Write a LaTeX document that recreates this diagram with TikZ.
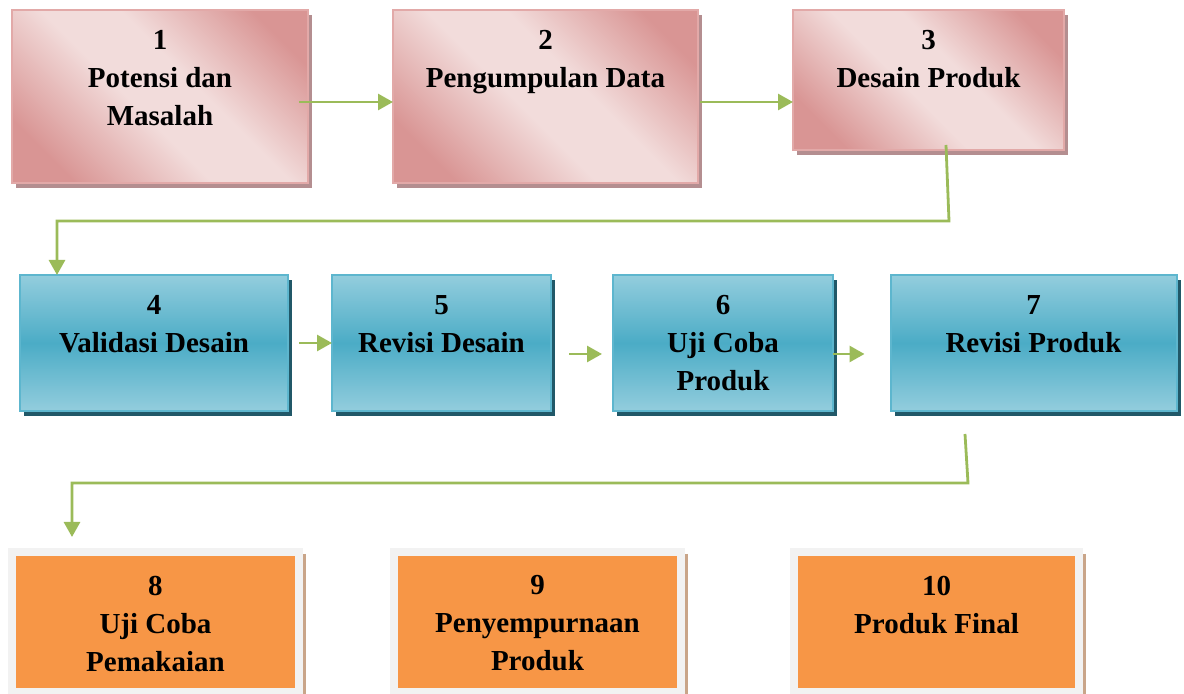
\documentclass[tikz,border=0pt]{standalone}
\usepackage{fontspec}
\setmainfont{Liberation Serif}
\usetikzlibrary{arrows.meta,shadows}

\definecolor{pinklight}{HTML}{F2DCDB}
\definecolor{pinkdark}{HTML}{D99594}
\definecolor{pinkedge}{HTML}{E2A9A8}
\definecolor{pinkshadow}{HTML}{B48E90}
\definecolor{bluelight}{HTML}{93CDDD}
\definecolor{bluemid}{HTML}{4BACC6}
\definecolor{blueedge}{HTML}{5DB6CE}
\definecolor{blueshadow}{HTML}{215868}
\definecolor{orangefill}{HTML}{F79646}
\definecolor{framegray}{HTML}{F2F2F2}
\definecolor{framebrown}{HTML}{C9A589}
\definecolor{flowgreen}{HTML}{9BBB59}

\pgfdeclarehorizontalshading{pinkdiag}{100bp}{color(0bp)=(pinkdark); color(24bp)=(pinkdark); color(45bp)=(pinklight); color(57bp)=(pinklight); color(77bp)=(pinkdark); color(100bp)=(pinkdark)}

\begin{document}
\begin{tikzpicture}[x=0.5pt,y=-0.5pt,
    pinkbox/.style={draw=pinkedge, line width=0.8pt, shading=pinkdiag, shading angle=45,
        outer sep=0pt, inner sep=0pt,
        drop shadow={opacity=1, fill=pinkshadow, shadow xshift=2pt, shadow yshift=-2.5pt}},
    bluebox/.style={draw=blueedge, line width=1pt, top color=bluelight, bottom color=bluelight,
        middle color=bluemid, outer sep=0pt, inner sep=0pt,
        drop shadow={opacity=1, fill=blueshadow, shadow xshift=2pt, shadow yshift=-2.5pt}},
    orangebox/.style={draw=framegray, line width=4pt, fill=orangefill, outer sep=0pt, inner sep=0pt},
    boxtext/.style={anchor=north, align=center, inner sep=0pt,
        font=\fontsize{14.5}{19}\selectfont\bfseries},
    flow/.style={draw=flowgreen, line width=1.4pt, -{Triangle[length=7.5pt,width=8pt]}}]

    \useasboundingbox (0,0) rectangle (1184,694);

    % Row 1
    \node[pinkbox, minimum width=148pt, minimum height=86.5pt] (b1) at (160,96.5) {};
    \node[pinkbox, minimum width=152.5pt, minimum height=86.5pt] (b2) at (545.5,96.5) {};
    \node[pinkbox, minimum width=135.5pt, minimum height=70pt] (b3) at (928.5,80) {};
    \node[boxtext] (t1) at ([yshift=-10pt]b1.north) {1\\Potensi dan\\Masalah};
    \node[boxtext] (t2) at ([yshift=-10pt]b2.north) {2\\Pengumpulan Data};
    \node[boxtext] (t3) at ([yshift=-10pt]b3.north) {3\\Desain Produk};

    % Row 2
    \node[bluebox, minimum width=134pt, minimum height=68pt] (b4) at (154,343) {};
    \node[bluebox, minimum width=109.5pt, minimum height=68pt] (b5) at (441.5,343) {};
    \node[bluebox, minimum width=110pt, minimum height=68pt] (b6) at (723,343) {};
    \node[bluebox, minimum width=143pt, minimum height=68pt] (b7) at (1033.5,343) {};
    \node[boxtext] (t4) at ([yshift=-10pt]b4.north) {4\\Validasi Desain};
    \node[boxtext] (t5) at ([yshift=-10pt]b5.north) {5\\Revisi Desain};
    \node[boxtext] (t6) at ([yshift=-10pt]b6.north) {6\\Uji Coba\\Produk};
    \node[boxtext] (t7) at ([yshift=-10pt]b7.north) {7\\Revisi Produk};

    % Row 3
    \node[orangebox, minimum width=143.5pt, minimum height=70pt] (b8) at (155.5,622) {};
    \node[orangebox, minimum width=143.5pt, minimum height=70pt] (b9) at (537.5,622) {};
    \node[orangebox, minimum width=142.5pt, minimum height=70pt] (b10) at (936.5,622) {};
    \foreach \b in {b8,b9,b10}
        \draw[framebrown, line width=1.5pt] ([xshift=2.8pt,yshift=-1pt]\b.north east) -- ([xshift=2.8pt,yshift=-3pt]\b.south east);
    \node[boxtext] (t8) at ([yshift=-11.7pt]b8.north) {8\\Uji Coba\\Pemakaian};
    \node[boxtext] (t9) at ([yshift=-11.7pt]b9.north) {9\\Penyempurnaan\\Produk};
    \node[boxtext] (t10) at ([yshift=-11.7pt]b10.north) {10\\Produk Final};

    % Connectors
    \draw[flow] ([xshift=-4.5pt,yshift=-2.75pt]b1.east) -- ([yshift=-2.75pt]b2.west);
    \draw[flow] ([xshift=1pt,yshift=-2.75pt]b2.east) -- ([yshift=-11pt]b3.west);
    \draw[flow] ([xshift=8.75pt,yshift=2.5pt]b3.south) -- ++(3,76) -| ([xshift=-48.5pt]b4.north);
    \draw[flow] ([xshift=5.5pt]b4.east) -- (b5.west);
    \draw[flow] ([xshift=9pt,yshift=-5.5pt]b5.east) -- ([xshift=-5.5pt,yshift=-5.5pt]b6.west);
    \draw[flow] ([yshift=-5.5pt]b6.east) -- ([xshift=-13pt,yshift=-5.5pt]b7.west);
    \draw[flow] ([xshift=-34.25pt,yshift=-11.5pt]b7.south) -- ++(3,49) -| ([xshift=-41.75pt,yshift=7.5pt]b8.north);
\end{tikzpicture}
\end{document}
